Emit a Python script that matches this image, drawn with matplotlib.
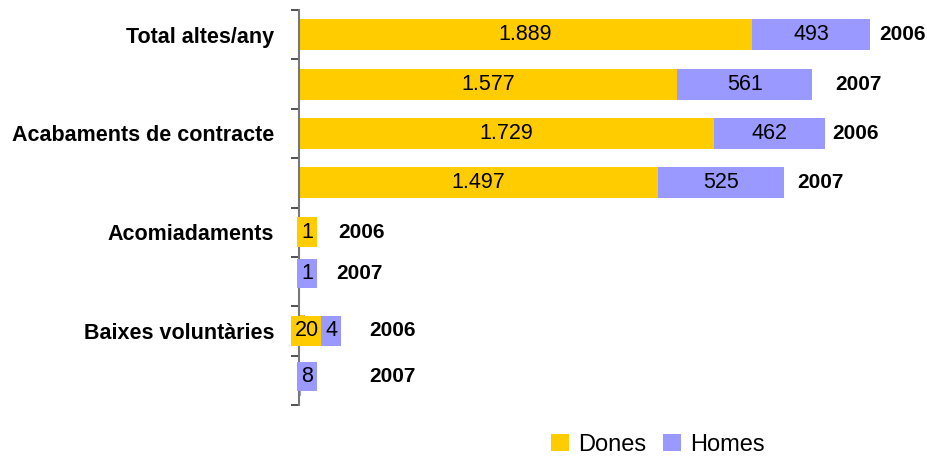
import matplotlib.pyplot as plt
from matplotlib.patches import Patch

categories = ['Total altes/any', 'Acabaments de contracte', 'Acomiadaments', 'Baixes voluntàries']
years = ['2006', '2007', '2006', '2007', '2006', '2007', '2006', '2007']
dones = [1889, 1577, 1729, 1497, 1, 0, 20, 0]
homes = [493, 561, 462, 525, 0, 1, 4, 8]

GOLD = '#FFCC00'
LILAC = '#9999FF'

# per-bar placement of the year tag (px right of bar end) and small vertical nudges (px)
year_pad_px = [9, 23, 8, 13, 39, 37, 64, 68]
nudge_px = [0, 0, 0, 0, 0, -8, 0, -4]

plt.rcParams['font.family'] = ['Liberation Sans', 'DejaVu Sans']
fig = plt.figure(figsize=(9.27, 4.59), dpi=100)
ax = fig.add_axes([299 / 927, 1 - 405 / 459, 0.634, 395 / 459])

px = 0.72  # points per pixel at 100 dpi


def fmt(v):
    return f'{v:,}'.replace(',', '.')


for i in range(len(years)):
    left = 0
    k = 0
    for vals, color in ((dones, GOLD), (homes, LILAC)):
        v = vals[i]
        if v == 0:
            continue
        ax.barh(i, v, left=left, height=0.63, color=color, edgecolor='none')
        if v > 100:
            ax.text(left + v / 2, i, fmt(v), ha='center', va='center', fontsize=15.5)
        else:
            # tiny segment: boxed label just right of the axis
            ax.annotate(fmt(v), (0, i), xytext=((8 + 24 * k) * px, -nudge_px[i] * px),
                        textcoords='offset points', ha='center', va='center', fontsize=15.5,
                        bbox=dict(boxstyle='square,pad=0.2', fc=color, ec='none'))
        k += 1
        left += v
    ax.annotate(years[i], (left, i), xytext=(year_pad_px[i] * px, -nudge_px[i] * px),
                textcoords='offset points', ha='left', va='center',
                fontsize=15, fontweight='bold')

ax.set_xlim(0, 2450)
ax.set_ylim(len(years) - 0.5, -0.5)

# category names on the first bar of each pair, boundary ticks between bars
ax.set_yticks(range(0, len(years), 2))
ax.set_yticklabels(categories, fontsize=15.5, fontweight='bold')
ax.tick_params(axis='y', which='major', length=0, pad=18)
ax.set_yticks([b - 0.5 for b in range(len(years) + 1)], minor=True)
ax.tick_params(axis='y', which='minor', length=6, width=1.2, color='#333333')
ax.set_xticks([])

for side in ('top', 'right', 'bottom'):
    ax.spines[side].set_visible(False)
ax.spines['left'].set_color('#777777')
ax.spines['left'].set_linewidth(1.5)

handles = [Patch(facecolor=GOLD, edgecolor='none', label='Dones'),
           Patch(facecolor=LILAC, edgecolor='none', label='Homes')]
fig.legend(handles=handles, loc='center', bbox_to_anchor=(658 / 927, 1 - 445 / 459),
           ncol=2, frameon=False, fontsize=17, handlelength=0.75, handleheight=0.75,
           handletextpad=0.4, columnspacing=0.7)

fig.savefig('out.png', dpi=100)
